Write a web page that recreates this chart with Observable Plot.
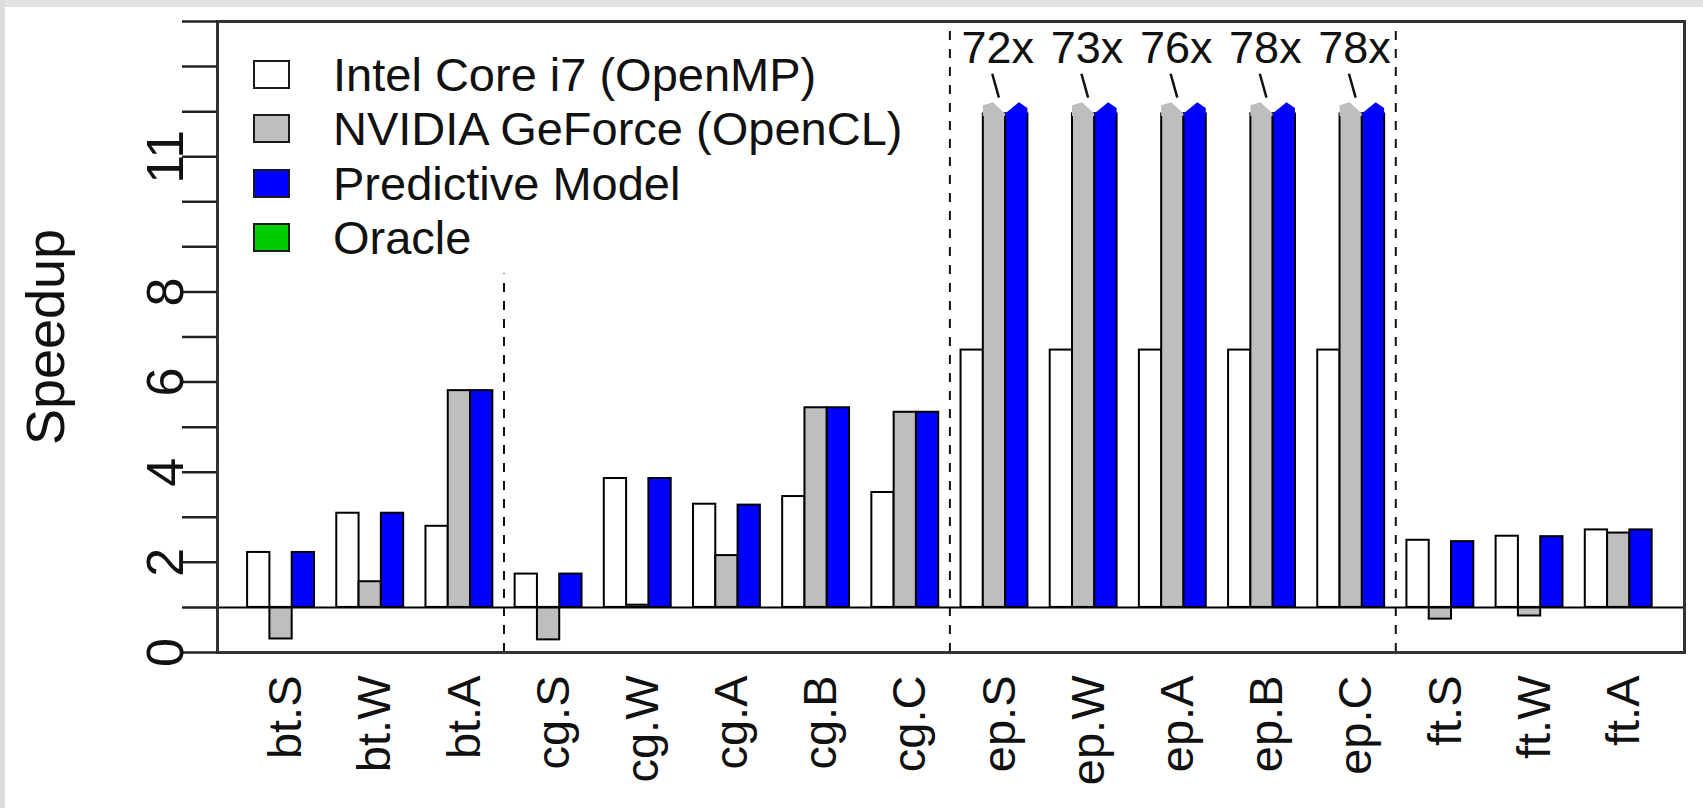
<!DOCTYPE html>
<html>
<head>
<meta charset="utf-8">
<script src="https://cdn.jsdelivr.net/npm/d3@7"></script>
<script src="https://cdn.jsdelivr.net/npm/@observablehq/plot@0.6"></script>
<style>
  html, body { margin: 0; padding: 0; background: #ffffff; overflow: hidden; }
  #wrap { position: relative; width: 1703px; height: 808px; font-family: "Liberation Sans", Arial, Helvetica, sans-serif; }
  #stripT { position: absolute; left: 0; top: 0; width: 1703px; height: 7px; background: #e2e2e2; }
  #stripL { position: absolute; left: 0; top: 0; width: 5px; height: 808px; background: #dcdcdc; }
  #chart { position: absolute; left: 0; top: 0; }
  #legend { position: absolute; left: 0; top: 0; width: 0; height: 0; }
  .item { position: absolute; left: 253px; height: 29px; display: flex; align-items: center; white-space: nowrap; }
  .sw { box-sizing: border-box; width: 37px; height: 29px; border: 2.5px solid #1a1a1a; }
  .lab { position: absolute; left: 80px; font-size: 47px; color: #111; line-height: 29px; }
</style>
</head>
<body>
<div id="wrap">
  <div id="stripT"></div>
  <div id="stripL"></div>
  <div id="chart"></div>
  <div id="legend"></div>
</div>
<script>
// ---------------- data ----------------
const categories = ["bt.S","bt.W","bt.A","cg.S","cg.W","cg.A","cg.B","cg.C","ep.S","ep.W","ep.A","ep.B","ep.C","ft.S","ft.W","ft.A"];
const intel      = [2.22, 3.09, 2.80, 1.74, 3.86, 3.29, 3.46, 3.55, 6.71, 6.71, 6.71, 6.71, 6.71, 2.49, 2.58, 2.72];
const nvidia     = [0.30, 1.57, 5.81, 0.28, 1.05, 2.15, 5.43, 5.33, 72, 73, 76, 78, 78, 0.74, 0.81, 2.65];
const predictive = [2.22, 3.09, 5.81, 1.74, 3.86, 3.27, 5.43, 5.33, 72, 73, 76, 78, 78, 2.46, 2.57, 2.72];
const seriesNames  = ["Intel Core i7 (OpenMP)", "NVIDIA GeForce (OpenCL)", "Predictive Model", "Oracle"];
const seriesColors = ["#ffffff", "#bebebe", "#0000ff", "#00cd00"];
const yTicks      = [0,1,2,3,4,5,6,7,8,9,10,11,12,13,14];
const yTickLabels = [0, 2, 4, 6, 8, 11];
const familyStarts = [3, 8, 13];       // first category index of cg, ep, ft
const separatorTops = [8.4, 14, 14];   // the first separator stops below the legend

// ---------------- layout constants ----------------
const BASE = 1;        // bars grow from speedup = 1
const CAP = 11.95;     // broken-axis cap for the huge ep speedups
const PER = 4;         // 3 bars + 1 gap per category

const seriesValues = [intel, nvidia, predictive];
const bars = [];
categories.forEach((c, g) => {
  seriesValues.forEach((vals, s) => {
    const v = vals[g];
    bars.push({cat: c, g, s, v, x1: g*PER + 1 + s, x2: g*PER + 2 + s, top: Math.min(v, CAP)});
  });
});

// arrow-like tips drawn on the capped bars
const tips = [];
bars.filter(b => b.v > CAP).forEach(b => {
  const key = b.cat + "-" + b.s;
  const prof = b.s === 1
    ? [[0, 12.13], [0.45, 12.2], [1, CAP]]
    : [[0, CAP], [0.62, 12.2], [1, 12.07]];
  prof.forEach(([f, y]) => tips.push({key, s: b.s, x: b.x1 + f, y1: CAP - 0.06, y2: y}));
});

const capped = categories.map((c, g) => ({c, g, v: nvidia[g]})).filter(d => d.v > CAP);
const separators = familyStarts.map((g, i) => ({x: g*PER + 0.5, top: separatorTops[i]}));

const font = "Liberation Sans, Arial, Helvetica, sans-serif";

const chart = Plot.plot({
  width: 1703,
  height: 808,
  marginLeft: 217,
  marginRight: 19,
  marginTop: 21,
  marginBottom: 156,
  style: {background: "transparent", fontFamily: font, color: "#111", overflow: "visible"},
  x: {type: "linear", domain: [-0.35, 65.45], axis: null},
  y: {type: "linear", domain: [0, 14]},
  marks: [
    // family separators
    Plot.ruleX(separators, {x: "x", y1: 0, y2: "top", stroke: "#111", strokeWidth: 2, strokeDasharray: "9,9"}),
    // bars
    Plot.rectY(bars, {x1: "x1", x2: "x2", y1: BASE, y2: "top",
      fill: d => seriesColors[d.s], stroke: "#000", strokeWidth: 2}),
    // tips of the capped bars
    Plot.areaY(tips.filter(d => d.s === 1), {x: "x", y1: "y1", y2: "y2", z: "key", fill: seriesColors[1], curve: "linear"}),
    Plot.areaY(tips.filter(d => d.s === 2), {x: "x", y1: "y1", y2: "y2", z: "key", fill: seriesColors[2], curve: "linear"}),
    // baseline at speedup 1
    Plot.ruleY([BASE], {stroke: "#000", strokeWidth: 2}),
    // leader lines and labels of the capped values
    Plot.link(capped, {x1: d => d.g*PER + 2.4, y1: 12.84, x2: d => d.g*PER + 2.7, y2: 12.31, stroke: "#111", strokeWidth: 2.5}),
    Plot.text(capped, {x: d => d.g*PER + 2.65, y: 13.39, text: d => `${d.v}x`, fontSize: 45, fill: "#111"}),
    // frame and y axis
    Plot.frame({stroke: "#333", strokeWidth: 3}),
    Plot.axisY({ticks: yTicks, tickSize: 35, tickFormat: () => "", stroke: "#222", strokeWidth: 2.5, label: null}),
    Plot.text(yTickLabels, {y: d => d, text: d => String(d), frameAnchor: "left", dx: -35,
      rotate: -90, textAnchor: "middle", lineAnchor: "bottom", fontSize: 52, fill: "#111"}),
    Plot.text(["Speedup"], {frameAnchor: "left", dx: -171, rotate: -90, textAnchor: "middle", fontSize: 54, fill: "#111"}),
    // category labels
    Plot.text(categories, {x: (d, i) => i*PER + 3, frameAnchor: "bottom", dy: 23, dx: 9,
      rotate: -90, textAnchor: "end", fontSize: 47, fill: "#111"})
  ]
});
document.getElementById("chart").appendChild(chart);

// legend (inside the plot area, top-left)
const legend = document.getElementById("legend");
seriesNames.forEach((name, i) => {
  const item = document.createElement("div");
  item.className = "item";
  item.style.top = (60 + i*54.4) + "px";
  const sw = document.createElement("div");
  sw.className = "sw";
  sw.style.background = seriesColors[i];
  const lab = document.createElement("div");
  lab.className = "lab";
  lab.textContent = name;
  item.appendChild(sw);
  item.appendChild(lab);
  legend.appendChild(item);
});
</script>
</body>
</html>
